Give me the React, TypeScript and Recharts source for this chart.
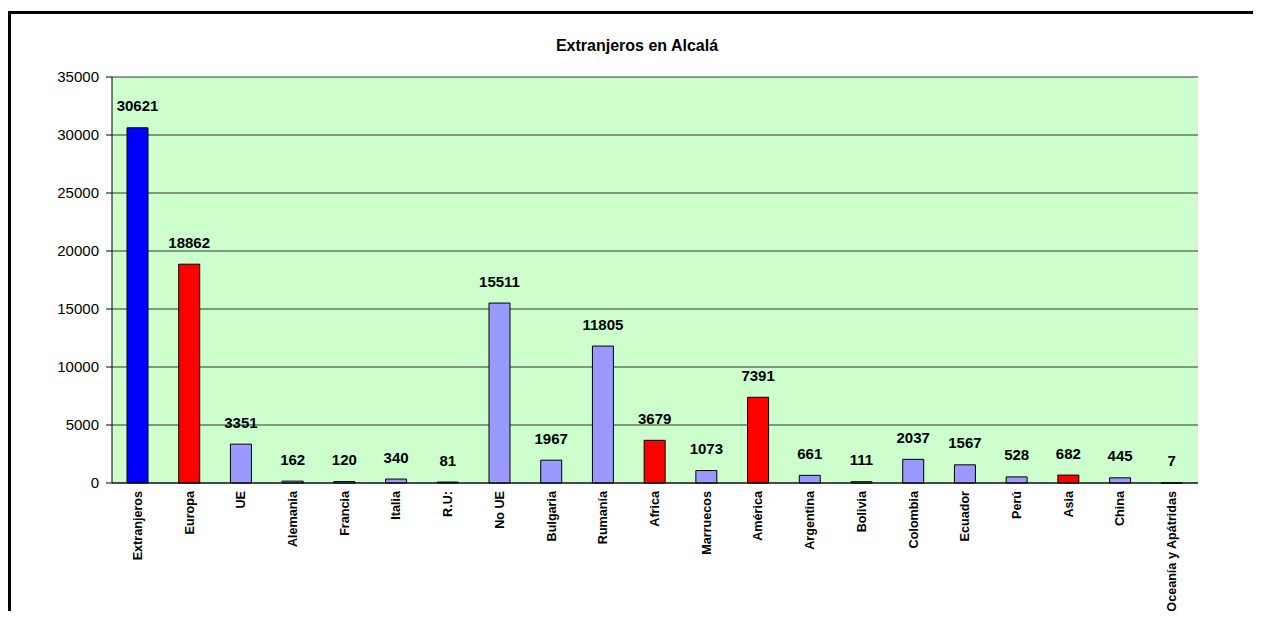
import React from "react";
import { BarChart, Bar, XAxis, YAxis, CartesianGrid, Cell } from "recharts";

const categories = [
  "Extranjeros", "Europa", "UE", "Alemania", "Francia", "Italia", "R.U:", "No UE",
  "Bulgaria", "Rumanía", "Africa", "Marruecos", "América", "Argentina", "Bolivia",
  "Colombia", "Ecuador", "Perú", "Asia", "China", "Oceanía y Apátridas",
];
const values = [
  30621, 18862, 3351, 162, 120, 340, 81, 15511, 1967, 11805, 3679, 1073, 7391,
  661, 111, 2037, 1567, 528, 682, 445, 7,
];
const groups = [
  "total", "continent", "country", "country", "country", "country", "country", "country",
  "country", "country", "continent", "country", "continent", "country", "country",
  "country", "country", "country", "continent", "country", "continent",
];
const yTicks = [0, 5000, 10000, 15000, 20000, 25000, 30000, 35000];
const title = "Extranjeros en Alcalá";

const groupColors: Record<string, string> = {
  total: "#0000FF",
  continent: "#FF0000",
  country: "#9999FF",
};

const data = categories.map((name, i) => ({ name, value: values[i], group: groups[i] }));
const boundaryTicks = categories.map((_, i) => i).concat([categories.length]);

const FONT = "'Liberation Sans', Arial, sans-serif";

const XTick = (props: any) => {
  const { x, y, payload } = props;
  return (
    <text
      x={x}
      y={y}
      transform={`rotate(-90, ${x}, ${y})`}
      textAnchor="end"
      dominantBaseline="central"
      dx={0}
      fontFamily={FONT}
      fontSize={12.6}
      fontWeight="bold"
      fill="#000"
    >
      {payload.value}
    </text>
  );
};

const renderLabel = (props: any) => {
  const { x, y, width, value } = props;
  return (
    <text
      x={x + width / 2}
      y={y - 22}
      textAnchor="middle"
      dominantBaseline="central"
      fontFamily={FONT}
      fontSize={15}
      fontWeight="bold"
      fill="#000"
    >
      {value}
    </text>
  );
};

export default function App() {
  return (
    <div style={{ position: "relative", width: 1245, height: 603 }}>
      <div
        style={{
          position: "absolute",
          left: 0,
          top: 3,
          width: 1250,
          height: 608,
          boxSizing: "border-box",
          borderTop: "3px solid #000",
          borderLeft: "3px solid #000",
          borderRight: "3px solid #000",
        }}
      />
      <div
        style={{
          position: "absolute",
          left: 479,
          width: 300,
          top: 27,
          textAlign: "center",
          fontFamily: FONT,
          fontWeight: "bold",
          fontSize: 16,
          lineHeight: "22px",
          color: "#000",
        }}
      >
        {title}
      </div>
      <div style={{ position: "absolute", left: 0, top: 0 }}>
        <BarChart
          width={1250}
          height={611}
          data={data}
          margin={{ top: 69, right: 60, left: 44, bottom: 0 }}
        >
          <CartesianGrid
            vertical={false}
            stroke="#333"
            fill="#CCFFCC"
            fillOpacity={1}
          />
          <XAxis
            xAxisId="bounds"
            type="number"
            domain={[0, categories.length]}
            ticks={boundaryTicks}
            tick={false}
            tickSize={5}
            tickLine={{ stroke: "#000" }}
            axisLine={false}
            height={0}
            allowDataOverflow
          />
          <XAxis
            xAxisId="cat"
            dataKey="name"
            interval={0}
            tickLine={false}
            axisLine={{ stroke: "#000" }}
            height={136}
            tick={<XTick />}
          />
          <YAxis
            domain={[0, 35000]}
            ticks={yTicks}
            interval={0}
            tickSize={6}
            tickMargin={7}
            width={60}
            axisLine={{ stroke: "#000" }}
            tickLine={{ stroke: "#000" }}
            tick={{ fontFamily: FONT, fontSize: 15, fill: "#000" }}
          />
          <YAxis
            yAxisId="right"
            orientation="right"
            width={0}
            tick={false}
            tickLine={false}
            axisLine={{ stroke: "#808080" }}
          />
          <Bar
            dataKey="value"
            xAxisId="cat"
            barSize={21}
            stroke="#000"
            strokeWidth={1}
            isAnimationActive={false}
            label={renderLabel}
          >
            {data.map((d, i) => (
              <Cell key={i} fill={groupColors[d.group]} />
            ))}
          </Bar>
        </BarChart>
      </div>
    </div>
  );
}
